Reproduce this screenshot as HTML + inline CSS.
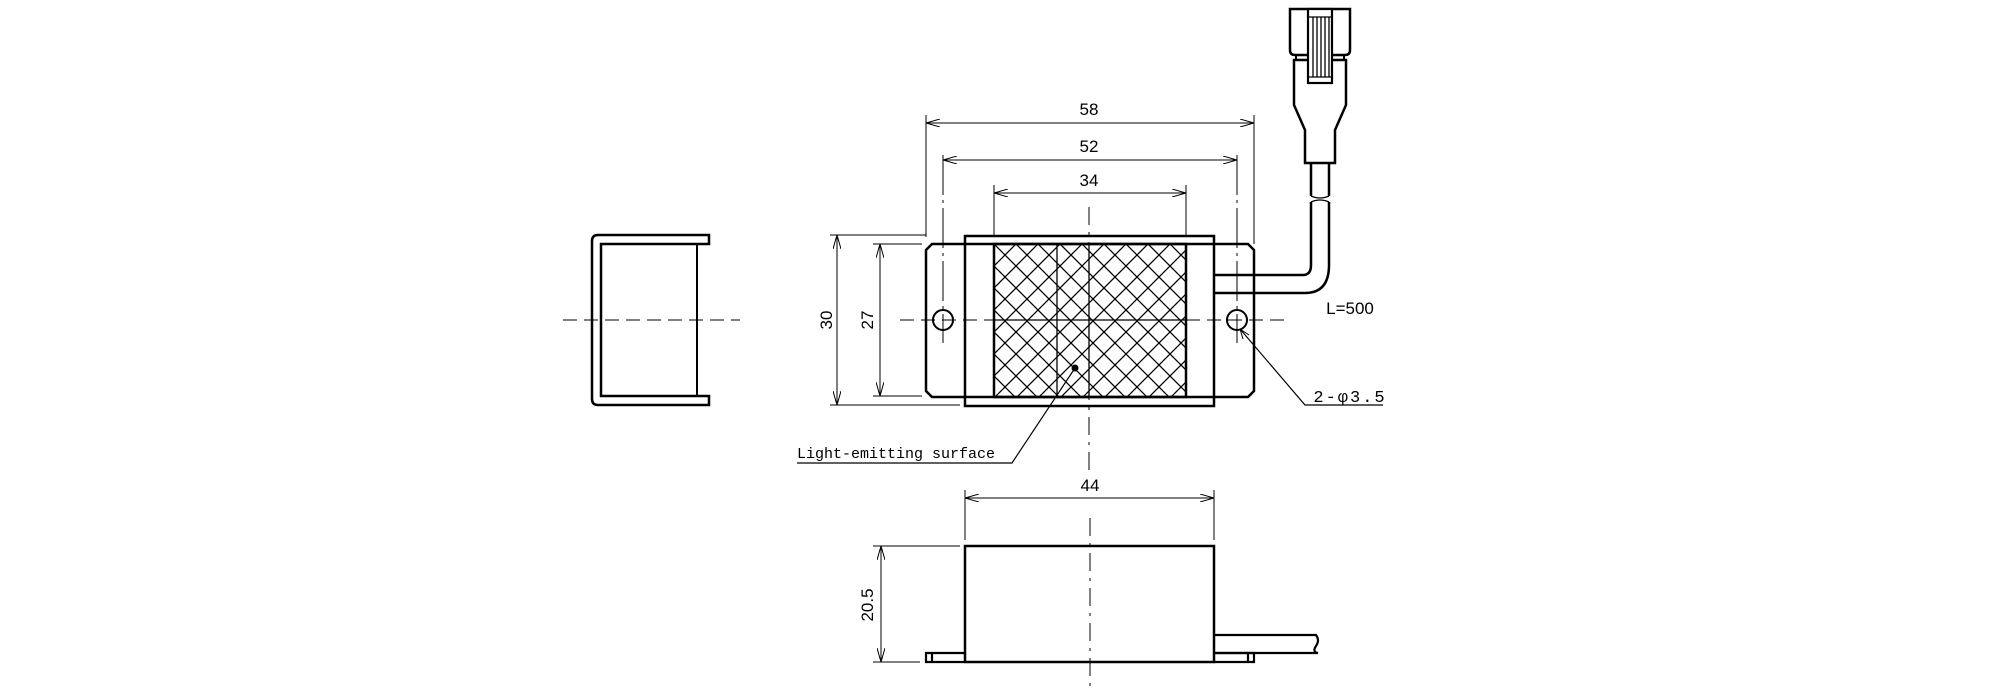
<!DOCTYPE html>
<html><head><meta charset="utf-8"><style>html,body{margin:0;padding:0;background:#fff}svg{display:block}</style></head>
<body>
<svg width="2000" height="700" viewBox="0 0 2000 700" xmlns="http://www.w3.org/2000/svg" font-family="Liberation Sans, sans-serif">
<defs>
<pattern id="h" width="22" height="22" patternUnits="userSpaceOnUse" x="994" y="244">
<path d="M0,0L22,22M22,0L0,22M-11,11L11,-11M11,33L33,11M-11,11L11,33M11,-11L33,11" stroke="#000" stroke-width="1.3"/>
</pattern>
<marker id="a" viewBox="0 0 14 8" refX="14" refY="4" markerWidth="14" markerHeight="8" markerUnits="userSpaceOnUse" orient="auto-start-reverse"><path d="M0,0L14,4L0,8" fill="none" stroke="#000" stroke-width="1"/></marker>
</defs>
<g fill="none" stroke="#000">
<path d="M709,235H598Q592,235 592,241V399Q592,405 598,405H709V396H601V244H709Z" stroke-width="2.5"/>
<line x1="697" y1="244" x2="697" y2="396" stroke-width="2"/>
<line x1="563" y1="320" x2="740" y2="320" stroke-width="1" stroke-dasharray="14,7"/>

<rect x="994" y="244" width="192" height="153" fill="url(#h)" stroke="none"/>
<path d="M932,244H1248L1254,250V391L1248,397H932L926,391V250Z" stroke-width="2.5"/>
<rect x="965" y="236" width="249" height="170" stroke-width="2.5"/>
<rect x="994" y="244" width="192" height="153" stroke-width="2.5"/>
<line x1="1057" y1="244" x2="1057" y2="397" stroke-width="1.3"/>
<line x1="1089" y1="244" x2="1089" y2="397" stroke-width="1.3"/>
<line x1="994" y1="320" x2="1186" y2="320" stroke-width="1.3"/>
<circle cx="943" cy="320" r="10" stroke-width="2"/>
<circle cx="1237" cy="320" r="10" stroke-width="2"/>
<line x1="900" y1="320" x2="994" y2="320" stroke-width="1" stroke-dasharray="14,7"/>
<line x1="1186" y1="320" x2="1287" y2="320" stroke-width="1" stroke-dasharray="14,7"/>
<line x1="943" y1="155" x2="943" y2="343" stroke-width="1" stroke-dasharray="40,5,3,5"/>
<line x1="1237" y1="155" x2="1237" y2="343" stroke-width="1" stroke-dasharray="40,5,3,5"/>
<line x1="1089" y1="207" x2="1089" y2="470" stroke-width="1" stroke-dasharray="18,7,3,7"/>
<path d="M1214,275H1303Q1311,275 1311,265V202M1214,293H1305Q1329,293 1329,265V202" stroke-width="2.5"/>
<path d="M1311,163V196M1329,163V196" stroke-width="2.5"/>
<path d="M1311,196Q1320,200 1329,196M1311,202Q1320,198 1329,202" stroke-width="1.3"/>
<path d="M1305,163V130L1294,105V60H1346V105L1335,130V163Z" fill="#fff" stroke-width="2.5"/>
<path d="M1290,9H1350V50Q1350,55 1345,55H1295Q1290,55 1290,50Z" fill="#fff" stroke-width="2.5"/>
<path d="M1296,55V60M1344,55V60" stroke-width="2"/>
<rect x="1308" y="9" width="24" height="74" fill="#fff" stroke-width="2.2"/>
<path d="M1308,17H1332M1308,77H1332M1313,17V77M1317,17V77M1321,17V77M1325,17V77M1329,17V77" stroke-width="1.3"/>
<path d="M1240,329L1305,405H1383" stroke-width="1.2"/>
<path d="M1240,329l3,10M1240,329l9,6" stroke-width="1"/>
<circle cx="1075" cy="368" r="3.5" fill="#000" stroke="none"/>
<path d="M1075,368L1012,463H797" stroke-width="1.2"/>
<g stroke-width="1">
<line x1="926" y1="123" x2="1254" y2="123" marker-start="url(#a)" marker-end="url(#a)"/>
<line x1="926" y1="115" x2="926" y2="237"/><line x1="1254" y1="115" x2="1254" y2="244"/>
<line x1="943" y1="160" x2="1237" y2="160" marker-start="url(#a)" marker-end="url(#a)"/>
<line x1="994" y1="193" x2="1186" y2="193" marker-start="url(#a)" marker-end="url(#a)"/>
<line x1="994" y1="185" x2="994" y2="236"/><line x1="1186" y1="185" x2="1186" y2="236"/>
<line x1="837" y1="235" x2="837" y2="405" marker-start="url(#a)" marker-end="url(#a)"/>
<path d="M830,235H926M830,405H960"/>
<line x1="880" y1="244" x2="880" y2="396" marker-start="url(#a)" marker-end="url(#a)"/>
<path d="M873,244H922M873,396H922"/>
</g>
<rect x="965" y="546" width="249" height="116" stroke-width="2.5"/>
<path d="M965,653H926V662H965M932,653V662M1214,653H1254V662H1214M1248,653V662" stroke-width="2.2"/>
<path d="M1214,635H1316Q1320,640 1316,646Q1312,652 1318,653H1214" stroke-width="2.2"/>
<line x1="1090" y1="518" x2="1090" y2="692" stroke-width="1" stroke-dasharray="18,7,3,7"/>
<g stroke-width="1">
<line x1="965" y1="498" x2="1214" y2="498" marker-start="url(#a)" marker-end="url(#a)"/>
<line x1="965" y1="490" x2="965" y2="540"/><line x1="1214" y1="490" x2="1214" y2="540"/>
<line x1="881" y1="546" x2="881" y2="662" marker-start="url(#a)" marker-end="url(#a)"/>
<path d="M873,546H960M873,662H920"/>
</g>
</g>
<g font-size="17" fill="#000" text-anchor="middle">
<text x="1089" y="115">58</text>
<text x="1089" y="152">52</text>
<text x="1089" y="186">34</text>
<text x="1090" y="491">44</text>
<text x="1350" y="314">L=500</text>
<text transform="translate(832,320) rotate(-90)">30</text>
<text transform="translate(873,320) rotate(-90)">27</text>
<text transform="translate(873,605) rotate(-90)">20.5</text>
<text x="1350" y="402" font-family="Liberation Mono, monospace" font-size="17" letter-spacing="2">2-φ3.5</text>
<text x="797" y="458" text-anchor="start" font-family="Liberation Mono, monospace" font-size="15">Light-emitting surface</text>
</g>
</svg>
</body></html>
